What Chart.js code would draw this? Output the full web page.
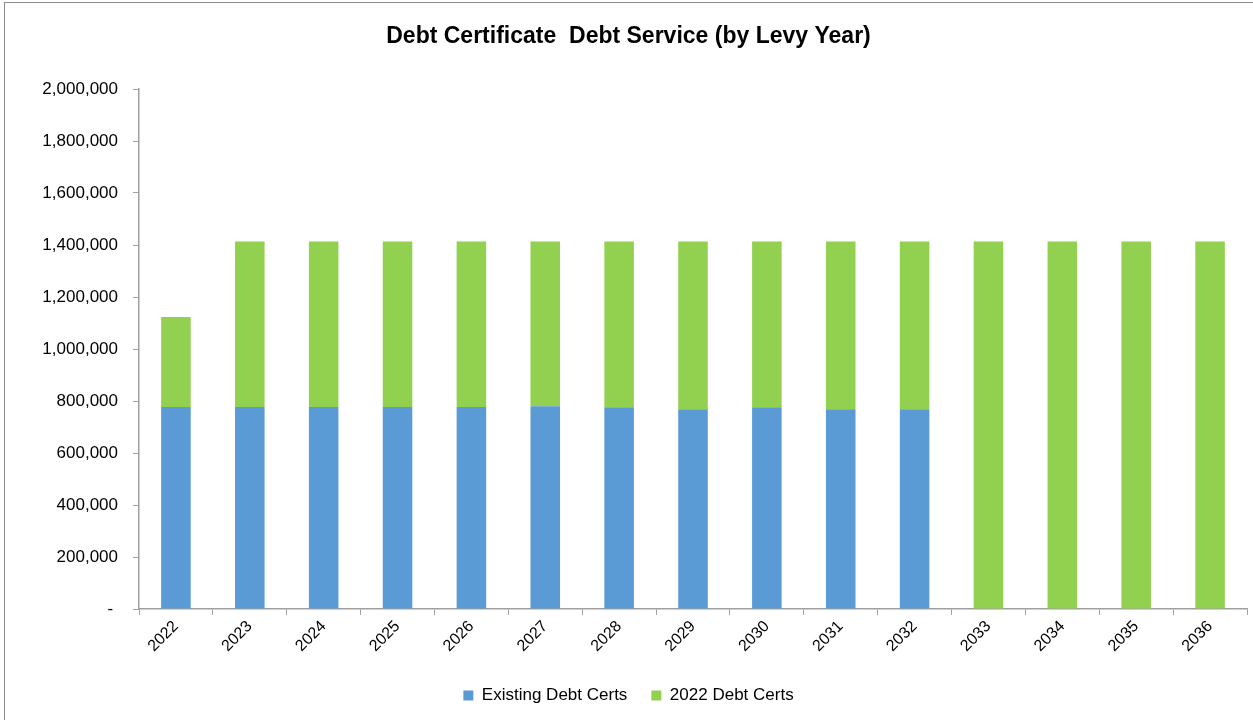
<!DOCTYPE html>
<html>
<head>
<meta charset="utf-8">
<script src="https://cdn.jsdelivr.net/npm/chart.js@4.4.1/dist/chart.umd.min.js"></script>
<style>
  html, body { margin: 0; padding: 0; background: #fff; overflow: hidden; }
  #wrap { position: absolute; left: 0; top: 0; width: 1253px; height: 720px; }
  #frame { position: absolute; left: 4px; top: 2px; width: 1300px; height: 800px;
           border-left: 1px solid #8c8c8c; border-top: 1px solid #8c8c8c; pointer-events: none; }
</style>
</head>
<body>
<div id="wrap"><canvas id="debtChart"></canvas></div>
<div id="frame"></div>
<script>
const levyYears = ['2022', '2023', '2024', '2025', '2026', '2027', '2028', '2029',
                   '2030', '2031', '2032', '2033', '2034', '2035', '2036'];
const existingCerts = [777000, 777000, 777000, 777000, 777000, 780000, 776000, 768000,
                       776000, 768000, 768000, 0, 0, 0, 0];
const newCerts2022 = [346000, 636000, 636000, 636000, 636000, 633000, 637000, 645000,
                      637000, 645000, 645000, 1413000, 1413000, 1413000, 1413000];
const yTicks = [0, 200000, 400000, 600000, 800000, 1000000, 1200000, 1400000,
                1600000, 1800000, 2000000];

const FONT = 'Liberation Sans, Arial, sans-serif';
const axisGrey = '#a0a0a0';

const ctx = document.getElementById('debtChart').getContext('2d');
new Chart(ctx, {
    type: 'bar',
    data: {
        labels: levyYears,
        datasets: [
            {
                label: 'Existing Debt Certs',
                data: existingCerts,
                backgroundColor: '#5b9bd5',
                barPercentage: 0.4,
                categoryPercentage: 1.0
            },
            {
                label: '2022 Debt Certs',
                data: newCerts2022,
                backgroundColor: '#92d050',
                barPercentage: 0.4,
                categoryPercentage: 1.0
            }
        ]
    },
    options: {
        responsive: true,
        maintainAspectRatio: false,
        animation: false,
        layout: { padding: { left: 10, right: 6, top: 0, bottom: 6 } },
        plugins: {
            title: {
                display: true,
                text: 'Debt Certificate  Debt Service (by Levy Year)',
                color: '#000',
                font: { family: FONT, size: 23, weight: 'bold', lineHeight: 1.2 },
                padding: { top: 23, bottom: 38.4 }
            },
            legend: {
                position: 'bottom',
                labels: {
                    color: '#000',
                    font: { family: FONT, size: 17 },
                    boxWidth: 10,
                    boxHeight: 10,
                    padding: 24
                }
            },
            tooltip: { enabled: false }
        },
        scales: {
            x: {
                stacked: true,
                grid: { display: true, drawOnChartArea: false, drawTicks: true, tickLength: 6, color: axisGrey, offset: true },
                border: { display: true, color: axisGrey, width: 1.5 },
                ticks: {
                    color: '#000',
                    font: { family: FONT, size: 16 },
                    maxRotation: 45,
                    minRotation: 45,
                    padding: 2
                },
                afterFit: scale => { scale.height = 54; }
            },
            y: {
                stacked: true,
                min: 0,
                max: 2000000,
                afterBuildTicks: scale => { scale.ticks = yTicks.map(v => ({ value: v })); },
                grid: { display: true, drawOnChartArea: false, drawTicks: true, tickLength: 6, color: axisGrey },
                border: { display: true, color: axisGrey, width: 1.5 },
                ticks: {
                    color: '#000',
                    font: { family: FONT, size: 17 },
                    padding: 15,
                    callback: v => v === 0 ? '- ' : v.toLocaleString('en-US')
                },
                afterFit: scale => { scale.width = 129; }
            }
        }
    }
});
</script>
</body>
</html>
